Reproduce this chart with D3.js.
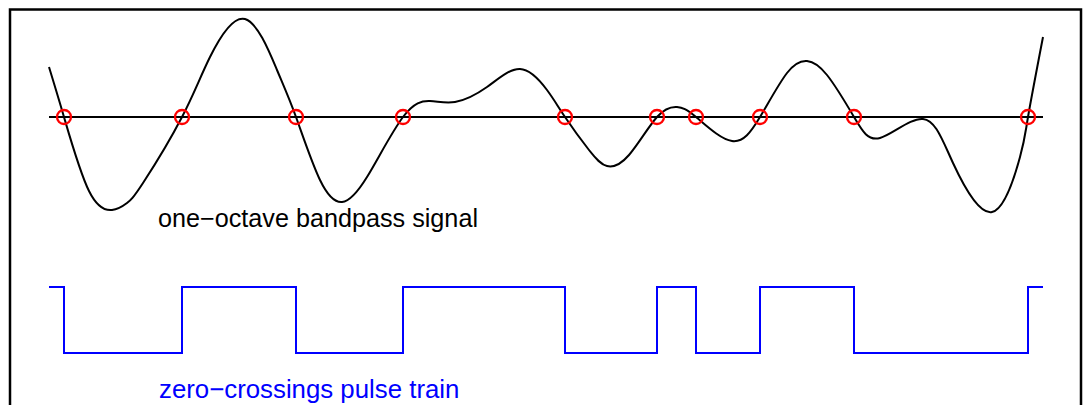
<!DOCTYPE html>
<html>
<head>
<meta charset="utf-8">
<script src="https://cdn.jsdelivr.net/npm/d3@7"></script>
<style>
  body { margin: 0; background: #fff; }
  svg { display: block; }
  text { font-family: "Liberation Sans", Arial, sans-serif; }
</style>
</head>
<body>
<svg id="chart" width="1084" height="405"></svg>
<script>
// signal samples: time (arbitrary units) and amplitude
var sigT = [0, 15, 40, 63, 78, 94, 133, 161, 196, 228, 247, 271, 293, 318, 354, 381, 406, 438, 471, 498, 516,
    540, 558, 580, 608, 628, 647, 683, 711, 738, 758, 778, 805, 831, 874, 904, 943, 971, 979, 994];
var sigA = [0.50, 0, -0.74, -0.93, -0.86, -0.66, 0, 0.60, 0.98, 0.47, 0, -0.63, -0.85, -0.60, 0, 0.16, 0.15, 0.30, 0.48, 0.27, 0,
    -0.33, -0.49, -0.38, 0, 0.10, 0, -0.24, 0, 0.44, 0.56, 0.42, 0, -0.21, -0.02, -0.46, -0.95, -0.40, 0, 0.80];

var pulseLevels = [1, -1]; // high, low
var labelSignal = "one\u2212octave bandpass signal";
var labelPulse = "zero\u2212crossings pulse train";

var svg = d3.select("#chart");

// frame
svg.append("rect")
    .attr("x", 10).attr("y", 9.5)
    .attr("width", 1071).attr("height", 420)
    .attr("fill", "none")
    .attr("stroke", "black")
    .attr("stroke-width", 2.5);

var x = d3.scaleLinear().domain([0, 994]).range([49, 1043]);
var y = d3.scaleLinear().domain([-1, 1]).range([217, 17]);
var yp = d3.scaleLinear().domain([-1, 1]).range([353, 287]);

var signal = sigT.map(function (t, i) { return [t, sigA[i]]; });
var crossings = sigT.filter(function (t, i) { return sigA[i] === 0; });

// zero line
svg.append("line")
    .attr("x1", x(0)).attr("x2", x(994))
    .attr("y1", y(0)).attr("y2", y(0))
    .attr("stroke", "black")
    .attr("stroke-width", 2);

var line = d3.line()
    .x(d => x(d[0]))
    .y(d => y(d[1]))
    .curve(d3.curveNatural);

svg.append("path")
    .datum(signal)
    .attr("d", line)
    .attr("fill", "none")
    .attr("stroke", "black")
    .attr("stroke-width", 2);

svg.selectAll(".zc")
    .data(crossings)
    .join("circle")
    .attr("class", "zc")
    .attr("cx", d => x(d))
    .attr("cy", y(0))
    .attr("r", 7)
    .attr("fill", "none")
    .attr("stroke", "red")
    .attr("stroke-width", 2.3);

// pulse train from crossings
var level = sigA[0] > 0 ? pulseLevels[0] : pulseLevels[1];
var pulse = [[0, level]];
crossings.forEach(function (c) {
    pulse.push([c, level]);
    level = level === pulseLevels[0] ? pulseLevels[1] : pulseLevels[0];
    pulse.push([c, level]);
});
pulse.push([994, level]);

svg.append("path")
    .datum(pulse)
    .attr("d", d3.line().x(d => x(d[0])).y(d => yp(d[1])))
    .attr("fill", "none")
    .attr("stroke", "blue")
    .attr("stroke-width", 2);

svg.append("text")
    .attr("x", 158).attr("y", 227)
    .attr("font-size", 25.2)
    .attr("fill", "black")
    .text(labelSignal);

svg.append("text")
    .attr("x", 159).attr("y", 398)
    .attr("font-size", 25.8)
    .attr("fill", "blue")
    .text(labelPulse);
</script>
</body>
</html>
